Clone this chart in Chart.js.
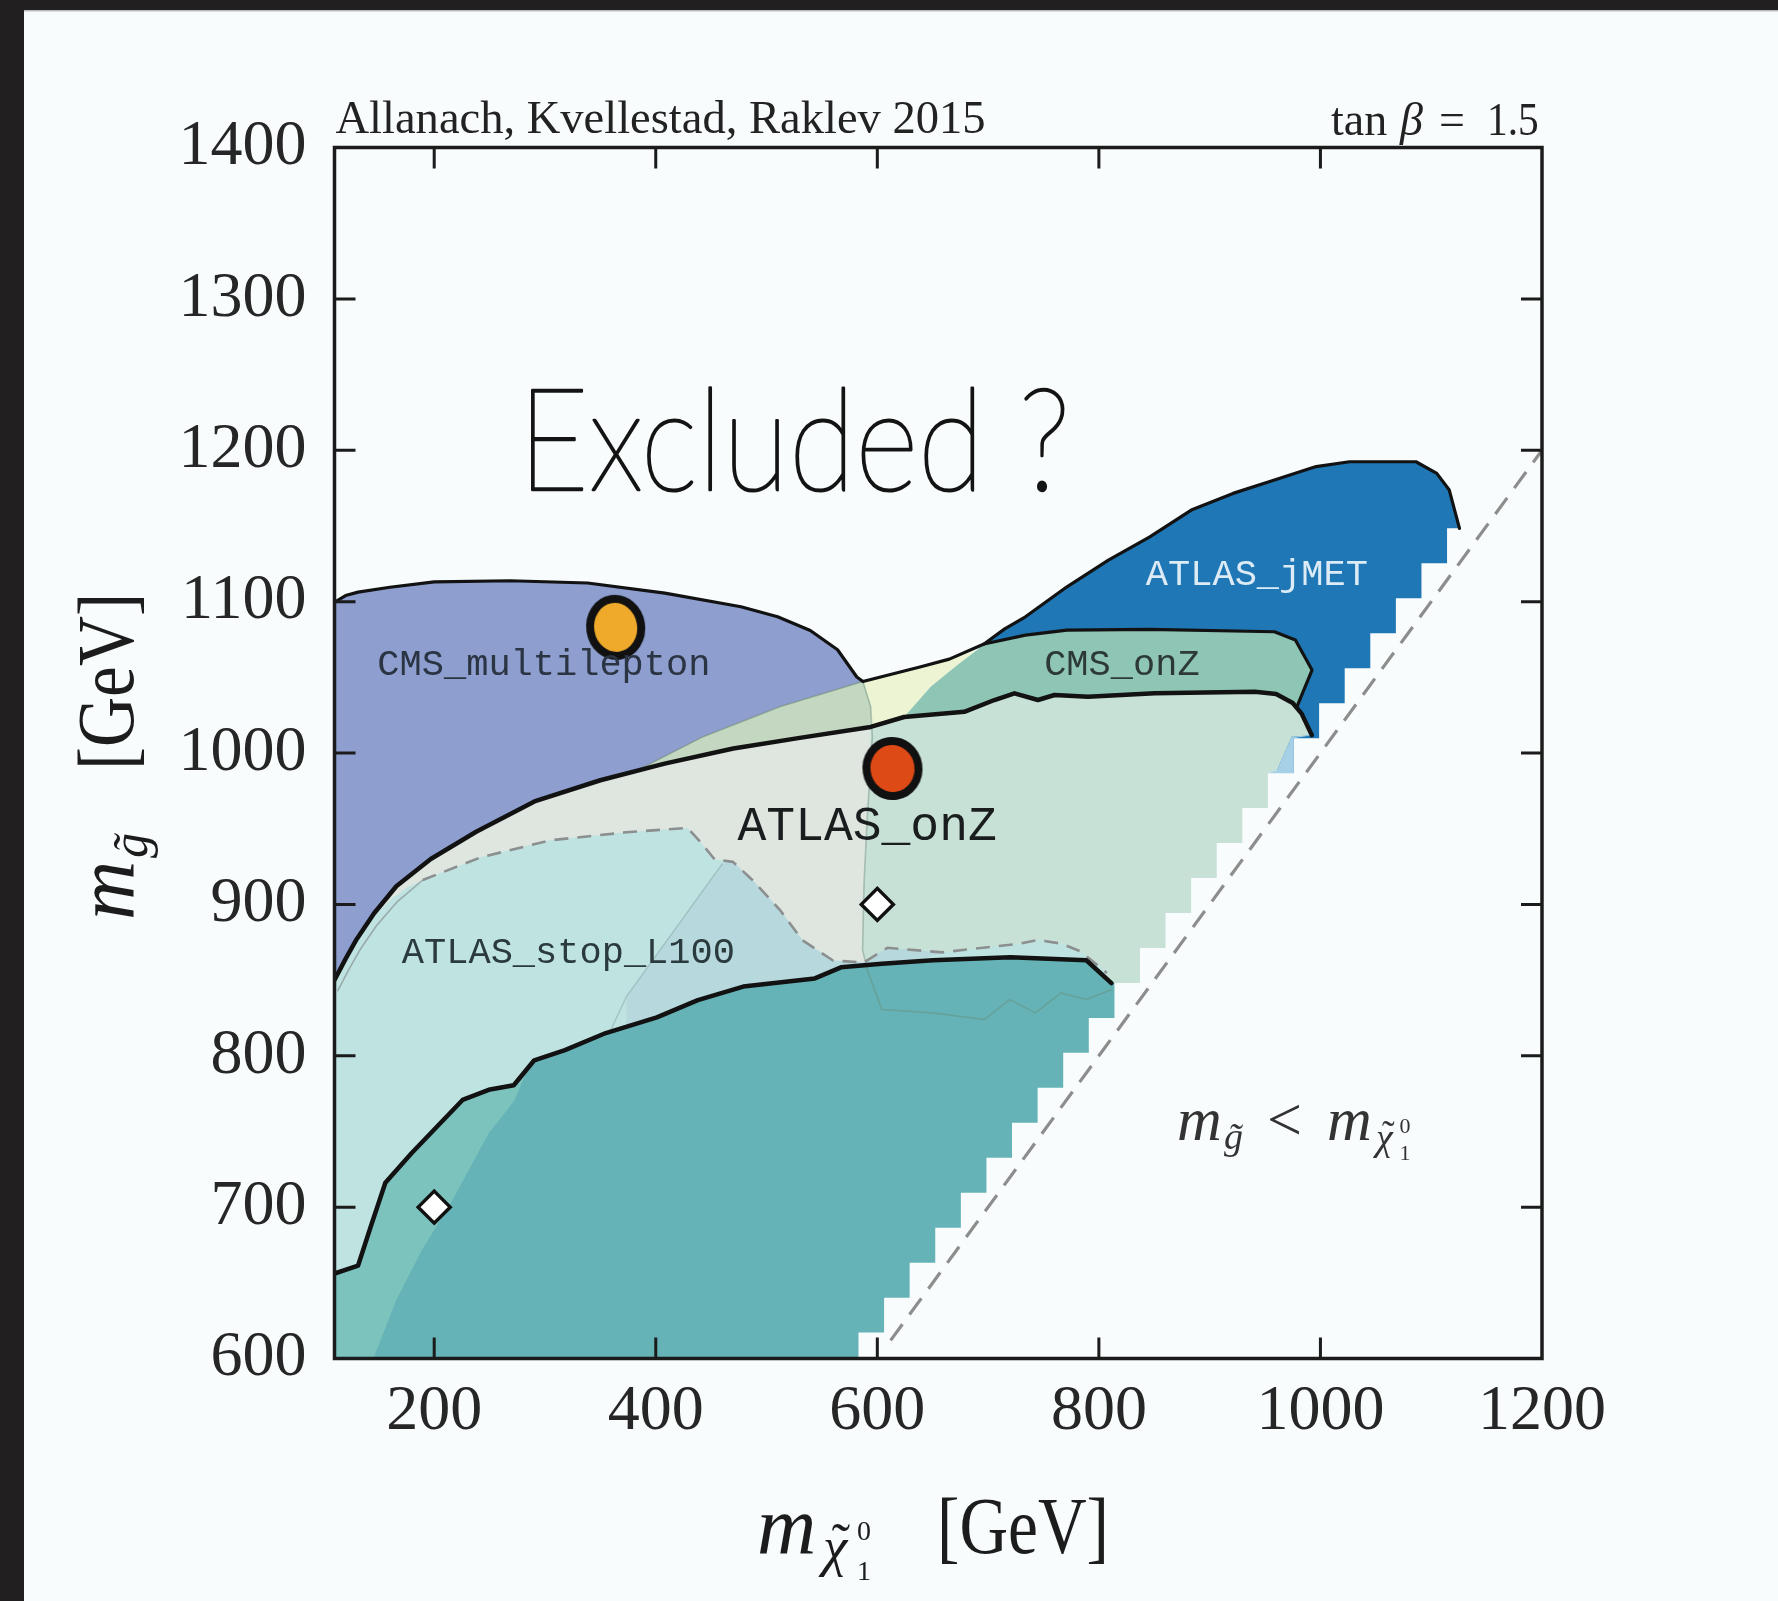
<!DOCTYPE html>
<html>
<head>
<meta charset="utf-8">
<title>Gluino vs neutralino mass plane</title>
<script src="https://cdn.jsdelivr.net/npm/chart.js@4.4.1/dist/chart.umd.min.js"></script>
<style>
  html, body { margin: 0; padding: 0; background: #f8fcfd; overflow: hidden; }
  #wrap { width: 1778px; height: 1601px; }
  canvas { display: block; }
</style>
</head>
<body>
<div id="wrap"><canvas id="plane" width="1778" height="1601"></canvas></div>
<script>
// ---------------- axes ----------------
const xRange = [110, 1200];
const yRange = [600, 1400];
const xTicks = [200, 400, 600, 800, 1000, 1200];
const yTicks = [600, 700, 800, 900, 1000, 1100, 1200, 1300, 1400];

// ---------------- contours, (m_chi10, m_gluino) in GeV ----------------
const multileptonTop = [[110,1099.6],[120,1104],[131.3,1106.3],[160,1109.5],[200,1113],[268.7,1113.8],[338.5,1112.3],[408.2,1105.6],[476.9,1096.6],[510,1090],[539.5,1080.9],[564.1,1068.2],[581.5,1050.2],[587,1047.2]];
const paleTop = [[639.3,1057],[665,1062],[696.3,1072]];
const paleRight = [[690,1068],[672,1058],[648.2,1043.8],[624.2,1023.8]];
const cmsOnZEdge = [[733.7,1077.9],[771.2,1081.2],[846,1081.7],[958.5,1080.1],[977.4,1074.6],[992.4,1054.8],[979,1031]];
const cmsOnZBottom = [[960,1039],[940.9,1040.4],[850.4,1039.4],[790.2,1037.2],[760,1038.3],[745,1035],[723.8,1039.4],[705.7,1035],[678.5,1027.2],[624.2,1023.8]];
const jmetEdge = [[696.3,1072],[715,1082],[733.7,1090],[771.2,1109.8],[808.6,1127.4],[846,1142.8],[883.4,1160.5],[921.1,1171.5],[958.5,1180.3],[996.1,1189.2],[1026.2,1192.4],[1086.2,1192.4],[1105,1184.7],[1116.3,1173.7],[1125.5,1148.4]];
const jmetSteps = [[1114.3,1148.4],[1114.3,1125.3],[1091.2,1125.3],[1091.2,1102.2],[1068.1,1102.2],[1068.1,1079.1],[1045,1079.1],[1045,1056],[1021.9,1056],[1021.9,1032.9],[998.8,1032.9],[998.8,1009.8],[975.7,1009.8],[975.7,986.7]];
const jmetInner = [[900,1000],[760,1000]];
const atlasOnZTop = [[110,850],[120,864],[130,877],[145.6,894],[165.8,912],[196.9,930],[237.9,948],[290.5,968],[350,982],[408,993],[470,1003],[530,1010],[594,1017.2],[624.2,1023.8],[678.5,1027.2],[705.7,1035],[723.8,1039.4],[745,1035],[760,1038.3],[790.2,1037.2],[850.4,1039.4],[940.9,1040.4],[960,1039],[975,1033],[983,1026],[992.2,1011.8]];
const onZSplit = [[591,957.9],[588,913.8],[586.7,869.8],[591,856.7],[590,825]];
const onZRightEdge = [[974,1010.7],[960.9,988.7],[952.6,986.7]];
const onZSteps = [[952.6,963.6],[929.5,963.6],[929.5,940.5],[906.4,940.5],[906.4,917.4],[883.3,917.4],[883.3,894.3],[860.2,894.3],[860.2,871.2],[837.1,871.2],[837.1,848.1],[814,848.1],[814,825]];
const jmetStrip = [[974,1010.7],[960.9,988.7],[952.6,986.7],[975.7,986.7],[975.7,1009.8],[992.2,1011.8]];
const sageTop = [[384.6,989],[442.8,1010.8],[512,1030.6],[587,1047.2]];
const stopL100Edge = [[110,850],[120,864],[130,877],[145.6,892],[161,903.3],[176.4,911.6],[189.7,916.1],[242,931.1],[304.6,942.3],[373.3,947.6],[428.7,950.5],[439,942.3],[453.3,929.6],[469.7,928.1],[487.2,916.1],[511.8,896.6],[532.3,876.4],[560,862.9],[587.7,861.6],[609.2,871.3],[658.4,868.3],[729.2,874.1],[744.6,876.4],[766.1,874.1],[783.6,868.9],[807.2,854.7]];
const stopL100Inner = [[805,845],[650,700],[560,600],[110,600]];
const stopL100Rim = [[113,843],[123,857],[133,870],[148,886],[167,902],[189.7,916.1]];
const stopMidEdge = [[460,926.8],[373.5,839],[360,818]];
const stopDarkTop = [[110,656.1],[131.3,661.4],[142.6,686.9],[155.9,716.1],[179.5,735.6],[202,752.8],[225.6,770.8],[249.2,777.5],[271.8,780.5],[290.3,797],[318,803.7],[354.9,815],[401,825.4],[438,836.7],[479,845.7],[543.6,851.1],[567.2,858.4],[604.1,860.8],[650.2,863.1],[720,865.1],[788.7,863.1],[811.3,848]];
const stopDarkSteps = [[814,848.1],[814,825],[790.9,825],[790.9,801.9],[767.8,801.9],[767.8,778.8],[744.7,778.8],[744.7,755.7],[721.6,755.7],[721.6,732.6],[698.5,732.6],[698.5,709.5],[675.4,709.5],[675.4,686.4],[652.3,686.4],[652.3,663.3],[629.2,663.3],[629.2,640.2],[606.1,640.2],[606.1,617.1],[583,617.1],[583,600],[110,600]];
const stopDarkStrip = [[285,792],[272,770],[249,748.7],[216.6,704.7],[188.9,671.7],[165.8,638.6],[145.1,600]];
const innerBoundary = [[587,1047.2],[594,1030.6],[595.5,1010.7],[591,957.9],[588,913.8],[586.7,869.8],[591,856.7],[604.1,830.6],[650.2,828.3],[696.4,823.9],[719.5,837.1],[742.6,828.3],[765.7,841.5],[788.7,837.1],[811.8,843.7]];
const diagonal = [[612,612],[1200,1200]];

// ---------------- markers ----------------
const benchmarks = [[200,700],[600,900]];
const bestFitCMS = [[363.8,1083]];
const bestFitATLAS = [[613.7,989.8]];

// ---------------- labels ----------------
const regionLabels = [
  {text: 'CMS_multilepton', x: 148.7, y: 1058, size: 37, color: '#2a3442'},
  {text: 'ATLAS_jMET', x: 842.4, y: 1117.6, size: 37, color: '#dcebf5'},
  {text: 'CMS_onZ', x: 750.6, y: 1058, size: 37, color: '#2c3938'},
  {text: 'ATLAS_onZ', x: 473.8, y: 950.7, size: 48, color: '#1a1d1d'},
  {text: 'ATLAS_stop_L100', x: 170.8, y: 868, size: 37, color: '#2a3a3d'}
];

const SERIF = "'Liberation Serif', 'DejaVu Serif', serif";
const MONO = "'Liberation Mono', 'DejaVu Sans Mono', monospace";
const HAND = "Lato, 'Open Sans', sans-serif";

const W = 1778, H = 1601;
const pts = a => a.map(([x, y]) => ({x, y}));
const rev = a => a.slice().reverse();

// closed region outlines
const multileptonPoly = [...multileptonTop, [594,1030.6], ...rev(atlasOnZTop.slice(0, 13))];
const jmetPoly = [...jmetEdge, ...jmetSteps, ...jmetInner];
const palePoly = [[587,1047.2], ...paleTop.slice(0, 2), ...paleRight, [594,1017.2], [594,1030.6]];
const sagePoly = [...sageTop, [594,1030.6], [594,1017.2], ...rev(atlasOnZTop.slice(9, 12))];
const cmsOnZPoly = [[696.3,1072], ...cmsOnZEdge, ...cmsOnZBottom, ...rev(paleRight)];
const onZLeftPoly = [...atlasOnZTop.slice(0, 13), ...onZSplit, [110,640]];
const onZRightPoly = [...atlasOnZTop.slice(12), ...onZRightEdge, ...onZSteps, [590,825], ...rev(onZSplit.slice(0, 4))];
const stopL100Poly = [...stopL100Edge, ...stopL100Inner];
const stopMidPoly = [...stopL100Edge.slice(13, 21), [590,850], [373.5,800], [373.5,839], [460,926.8]];
const stopDarkPoly = [...stopDarkTop, ...stopDarkSteps];
const stopDarkStripPoly = [[110,600], ...stopDarkTop.slice(0, 10), ...stopDarkStrip];

const regionLayers = [
  {id: 'CMS_multilepton', poly: multileptonPoly, color: '#8d9ecf'},
  {id: 'ATLAS_jMET', poly: jmetPoly, color: '#1f78b5'},
  {id: 'overlap_pale', poly: palePoly, color: '#ecf4d3'},
  {id: 'overlap_sage', poly: sagePoly, color: '#c4d7c1'},
  {id: 'CMS_onZ', poly: cmsOnZPoly, color: '#8fc5b5'},
  {id: 'ATLAS_onZ_low', poly: onZLeftPoly, color: '#dee6df'},
  {id: 'ATLAS_onZ', poly: onZRightPoly, color: '#c8e1d7'},
  {id: 'ATLAS_jMET_edge', poly: jmetStrip, color: '#a5d0e6'},
  {id: 'ATLAS_stop_L100', poly: stopL100Poly, color: '#bfe3e1'},
  {id: 'ATLAS_stop_L100_mid', poly: stopMidPoly, color: '#b7d8dc'},
  {id: 'ATLAS_stop_excl', poly: stopDarkPoly, color: '#65b3b6'},
  {id: 'ATLAS_stop_excl_edge', poly: stopDarkStripPoly, color: '#7cc3be'}
];

const upperOutline = [...multileptonTop, ...paleTop, ...cmsOnZEdge];
const lineLayers = [
  {id: 'inner', data: innerBoundary, color: 'rgba(105,140,120,0.45)', width: 1.6},
  {id: 'sageEdge', data: sageTop, color: 'rgba(110,140,110,0.5)', width: 1.6},
  {id: 'midEdge', data: stopMidEdge, color: 'rgba(120,150,150,0.4)', width: 1.4},
  {id: 'stopRim', data: stopL100Rim, color: 'rgba(120,125,125,0.55)', width: 1.6},
  {id: 'stopL100Line', data: stopL100Edge.slice(6), color: '#8b8f8f', width: 2.6, dash: [14, 9]},
  {id: 'upperLine', data: upperOutline, color: '#121212', width: 3.2},
  {id: 'jmetLine', data: jmetEdge, color: '#121212', width: 3.2},
  {id: 'onZLine', data: atlasOnZTop, color: '#121212', width: 4.5},
  {id: 'stopLine', data: stopDarkTop, color: '#121212', width: 4.5},
  {id: 'diagonal', data: diagonal, color: '#8d8d8d', width: 3.2, dash: [20, 12]}
];

function blob(fill, w, h, lw) {
  const c = document.createElement('canvas');
  c.width = Math.ceil(w + lw + 4);
  c.height = Math.ceil(h + lw + 4);
  const g = c.getContext('2d');
  g.beginPath();
  g.ellipse(c.width / 2, c.height / 2, w / 2, h / 2, -0.15, 0, Math.PI * 2);
  g.fillStyle = fill;
  g.fill();
  g.lineWidth = lw;
  g.strokeStyle = '#111';
  g.stroke();
  return c;
}

const datasets = [];
const nLayers = regionLayers.length + lineLayers.length + 3;
let ord = nLayers + 1;
regionLayers.forEach(l => datasets.push({
  label: l.id, data: pts(l.poly), showLine: true, fill: 'shape',
  backgroundColor: l.color, borderColor: 'rgba(0,0,0,0)', borderWidth: 0,
  pointRadius: 0, tension: 0, order: ord--
}));
lineLayers.forEach(l => datasets.push({
  label: l.id, data: pts(l.data), showLine: true, fill: false,
  borderColor: l.color, borderWidth: l.width, borderDash: l.dash || [],
  borderJoinStyle: 'round', borderCapStyle: l.dash ? 'butt' : 'round',
  pointRadius: 0, tension: 0, order: ord--
}));
datasets.push({label: 'benchmarks', data: pts(benchmarks), pointStyle: 'rectRot', pointRadius: 16,
  pointBackgroundColor: '#ffffff', pointBorderColor: '#111', pointBorderWidth: 3.5, order: ord--});
datasets.push({label: 'best fit CMS', data: pts(bestFitCMS), pointStyle: blob('#efaa2c', 51, 57, 8), pointRadius: 30, order: ord--});
datasets.push({label: 'best fit ATLAS', data: pts(bestFitATLAS), pointStyle: blob('#de4a15', 52, 55, 8), pointRadius: 30, order: ord--});

function txt(ctx, s, px, py, font, color, o = {}) {
  ctx.save();
  ctx.font = font;
  ctx.fillStyle = color;
  ctx.textAlign = o.align || 'left';
  ctx.textBaseline = o.baseline || 'alphabetic';
  ctx.translate(px, py);
  if (o.rot) ctx.rotate(o.rot);
  if (o.width) {
    const w = ctx.measureText(s).width;
    ctx.scale(o.width / w, 1);
  } else if (o.sx) {
    ctx.scale(o.sx, 1);
  }
  if (o.stroke) {
    ctx.lineWidth = o.stroke;
    ctx.strokeStyle = color;
    ctx.lineJoin = 'round';
    ctx.strokeText(s, 0, 0);
  }
  ctx.fillText(s, 0, 0);
  ctx.restore();
}

// neutralino symbol: italic chi with tilde, superscript 0 and subscript 1
function chi(ctx, px, py, size, idx, color) {
  txt(ctx, '\u03c7', px, py, `italic ${size}px ${SERIF}`, color);
  txt(ctx, '\u02dc', px + size * 0.16, py - size * 0.08, `${size}px ${SERIF}`, color);
  txt(ctx, '0', px + size * 0.62, py - size * 0.45, `${idx}px ${SERIF}`, color);
  txt(ctx, '1', px + size * 0.62, py + size * 0.27, `${idx}px ${SERIF}`, color);
}

const page = {
  id: 'page',
  beforeDraw(chart) {
    const ctx = chart.ctx;
    ctx.save();
    ctx.fillStyle = '#f8fcfd';
    ctx.fillRect(0, 0, W, H);
    ctx.fillStyle = '#221f20';
    ctx.fillRect(0, 0, W, 10);
    ctx.fillRect(0, 0, 24, H);
    ctx.fillStyle = '#b9bcbc';
    ctx.fillRect(24, 10, W - 24, 1.5);
    ctx.restore();
  }
};

const frame = {
  id: 'frame',
  afterDatasetsDraw(chart) {
    const {ctx, chartArea: a, scales: {x, y}} = chart;
    const T = 21;
    ctx.save();
    ctx.strokeStyle = '#1b1b1b';
    ctx.lineWidth = 3;
    ctx.beginPath();
    for (const v of xTicks) {
      if (v <= xRange[0] || v >= xRange[1]) continue;
      const px = x.getPixelForValue(v);
      ctx.moveTo(px, a.bottom); ctx.lineTo(px, a.bottom - T);
      ctx.moveTo(px, a.top); ctx.lineTo(px, a.top + T);
    }
    for (const v of yTicks) {
      if (v <= yRange[0] || v >= yRange[1]) continue;
      const py = y.getPixelForValue(v);
      ctx.moveTo(a.left, py); ctx.lineTo(a.left + T, py);
      ctx.moveTo(a.right, py); ctx.lineTo(a.right - T, py);
    }
    ctx.stroke();
    ctx.lineWidth = 3.5;
    ctx.strokeRect(a.left, a.top, a.right - a.left, a.bottom - a.top);
    ctx.restore();
  }
};

const texts = {
  id: 'texts',
  afterDraw(chart) {
    const {ctx, chartArea: a, scales: {x, y}} = chart;
    const ink = '#1c1c1c';

    // region names
    for (const l of regionLabels) {
      txt(ctx, l.text, x.getPixelForValue(l.x), y.getPixelForValue(l.y),
        `${l.size}px ${MONO}`, l.color, {baseline: 'middle'});
    }

    // handwritten note
    txt(ctx, 'Excluded ?', x.getPixelForValue(275.7), y.getPixelForValue(1173.7),
      `200 142px ${HAND}`, '#141414', {width: 552, stroke: 2.6});

    // kinematic boundary label
    const bx = x.getPixelForValue(870.5), by = y.getPixelForValue(744.5);
    const lc = '#333';
    txt(ctx, 'm', bx, by, `italic 62px ${SERIF}`, lc);
    txt(ctx, 'g\u0303', bx + 47, by + 9, `italic 38px ${SERIF}`, lc);
    txt(ctx, '<', bx + 90, by, `62px ${SERIF}`, lc);
    txt(ctx, 'm', bx + 150, by, `italic 62px ${SERIF}`, lc);
    chi(ctx, bx + 199, by + 10, 38, 22, lc);

    // header line
    txt(ctx, 'Allanach, Kvellestad, Raklev 2015', a.left + 1, a.top - 14.5, `46px ${SERIF}`, '#222', {width: 650});
    txt(ctx, 'tan', a.right - 211, a.top - 12.5, `46px ${SERIF}`, '#222');
    txt(ctx, '\u03b2', a.right - 142, a.top - 12.5, `italic 46px ${SERIF}`, '#222');
    txt(ctx, '=', a.right - 103, a.top - 12.5, `46px ${SERIF}`, '#222');
    txt(ctx, '1.5', a.right - 55, a.top - 12.5, `46px ${SERIF}`, '#222', {sx: 0.9});

    // x axis title
    const xt = a.left + 422.5, yb = a.bottom + 194.5;
    txt(ctx, 'm', xt, yb, `italic 82px ${SERIF}`, ink);
    chi(ctx, xt + 66, yb + 12, 55, 28, ink);
    txt(ctx, '[GeV]', xt + 180, yb, `80px ${SERIF}`, ink, {width: 172});

    // y axis title
    ctx.save();
    ctx.translate(133, 920);
    ctx.rotate(-Math.PI / 2);
    txt(ctx, 'm', 0, 0, `italic 82px ${SERIF}`, ink);
    txt(ctx, 'g\u0303', 62, 14, `italic 50px ${SERIF}`, ink);
    txt(ctx, '[GeV]', 150, 0, `80px ${SERIF}`, ink, {width: 177});
    ctx.restore();
  }
};

new Chart(document.getElementById('plane'), {
  type: 'scatter',
  data: {datasets},
  options: {
    responsive: false,
    animation: false,
    devicePixelRatio: 1,
    events: [],
    layout: {padding: {left: 0, top: 147.5, right: 236, bottom: 0}},
    plugins: {
      legend: {display: false},
      tooltip: {enabled: false},
      filler: {drawTime: 'beforeDatasetDraw', propagate: false}
    },
    scales: {
      x: {
        type: 'linear', min: xRange[0], max: xRange[1],
        grid: {display: false, drawTicks: false, tickLength: 0},
        border: {display: false},
        afterBuildTicks: s => { s.ticks = xTicks.map(v => ({value: v})); },
        afterFit: s => { s.height = H - 1358.5; },
        ticks: {font: {family: SERIF, size: 64}, color: '#262626', padding: 15,
          maxRotation: 0, autoSkip: false, callback: v => String(v)}
      },
      y: {
        type: 'linear', min: yRange[0], max: yRange[1],
        grid: {display: false, drawTicks: false, tickLength: 0},
        border: {display: false},
        afterBuildTicks: s => { s.ticks = yTicks.map(v => ({value: v})); },
        afterFit: s => { s.width = 334.5; },
        ticks: {font: {family: SERIF, size: 64}, color: '#262626', padding: 28,
          autoSkip: false, callback: v => String(v)}
      }
    }
  },
  plugins: [page, frame, texts]
});
</script>
</body>
</html>
